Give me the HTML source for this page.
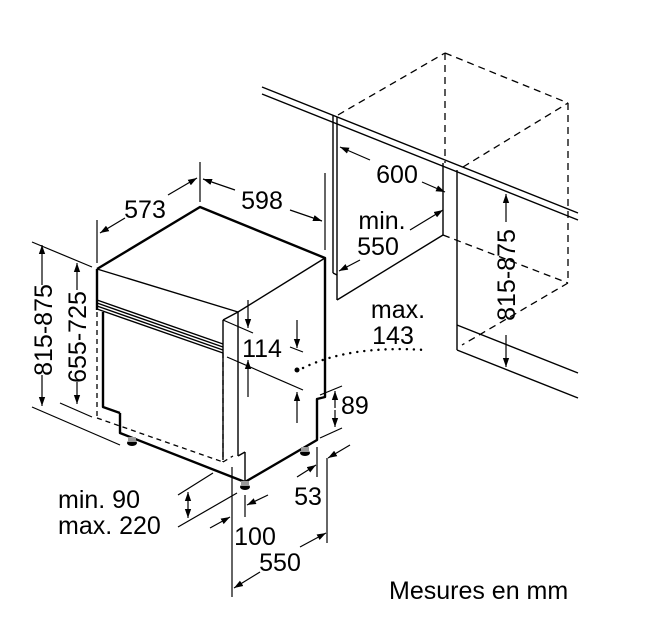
<!DOCTYPE html>
<html><head><meta charset="utf-8"><style>
html,body{margin:0;padding:0;background:#fff;}
svg{display:block;}
text{font-family:"Liberation Sans",Arial,sans-serif;font-size:25px;fill:#000;}
</style></head><body>
<svg width="668" height="625" viewBox="0 0 668 625" xmlns="http://www.w3.org/2000/svg">
<defs>
<marker id="a" viewBox="0 0 10 10" refX="10" refY="5" markerWidth="9" markerHeight="9" orient="auto-start-reverse" markerUnits="userSpaceOnUse"><path d="M0,1.5 L10,5 L0,8.5 z" fill="#000"/></marker>
</defs>
<g fill="none" stroke="#000" stroke-width="1.4">
<line x1="262" y1="87" x2="578" y2="213"/>
<line x1="262" y1="94" x2="578" y2="220"/>
<line x1="333" y1="115" x2="333" y2="273"/>
<line x1="337" y1="117" x2="337" y2="300"/>
<line x1="333" y1="273" x2="337" y2="275"/>
<line x1="337" y1="300" x2="443" y2="235"/>
<line x1="443" y1="163" x2="443" y2="235"/>
<line x1="457" y1="170" x2="457" y2="350"/>
<line x1="457" y1="325" x2="578" y2="373"/>
<line x1="457" y1="350" x2="578" y2="398"/>
</g>
<g fill="none" stroke="#000" stroke-width="1.3" stroke-dasharray="7,5">
<line x1="338" y1="115" x2="445" y2="53"/>
<line x1="445" y1="53" x2="568" y2="103"/>
<line x1="445" y1="53" x2="445" y2="163"/>
<line x1="568" y1="103" x2="568" y2="283"/>
<line x1="443" y1="235" x2="568" y2="283"/>
<line x1="568" y1="283" x2="462" y2="345"/>
<line x1="463" y1="167" x2="568" y2="103"/>
</g>
<g fill="none" stroke="#000" stroke-width="2.4" stroke-linejoin="round">
<polyline points="97,269 200,207 325,258 325,397 317,399 317,440 245,482 120,433 120,413"/>
<line x1="97" y1="269" x2="97" y2="310"/>
<polyline points="103,312 103,407 120,413"/>
</g>
<g fill="none" stroke="#000" stroke-width="1.4">
<line x1="97" y1="269" x2="238" y2="312"/>
<line x1="238" y1="312" x2="325" y2="258"/>
<line x1="238" y1="312" x2="238" y2="456"/>
<line x1="223" y1="320" x2="223" y2="460"/>
<line x1="223" y1="320" x2="238" y2="312"/>
<line x1="245" y1="452" x2="245" y2="482"/>
<line x1="238" y1="456" x2="245" y2="452"/>
<line x1="97" y1="300" x2="223" y2="344"/>
<line x1="97" y1="303" x2="223" y2="347"/>
<line x1="97" y1="306" x2="223" y2="350"/>
<line x1="97" y1="309" x2="223" y2="353"/>
</g>
<g fill="none" stroke="#000" stroke-width="1.3" stroke-dasharray="5,4">
<line x1="97" y1="312" x2="97" y2="418"/>
<line x1="97" y1="418" x2="223" y2="462"/>
<line x1="223" y1="353" x2="223" y2="462"/>
<line x1="223" y1="462" x2="233" y2="456"/>
</g>
<g fill="#000"><ellipse cx="132" cy="443" rx="5" ry="3"/><ellipse cx="305" cy="453" rx="5" ry="3"/><ellipse cx="245" cy="487" rx="5" ry="3"/></g>
<g fill="#999"><rect x="128" y="437" width="8" height="5"/><rect x="301" y="447" width="8" height="5"/><rect x="241" y="481" width="8" height="5"/></g>
<g fill="none" stroke="#000" stroke-width="1.2">
<line x1="97" y1="220" x2="97" y2="263"/>
<line x1="200" y1="162" x2="200" y2="202"/>
<line x1="325" y1="173" x2="325" y2="250"/>
<line x1="32" y1="242" x2="92" y2="267"/>
<line x1="32" y1="407" x2="120" y2="445"/>
<line x1="60" y1="403" x2="92" y2="417"/>
<line x1="223" y1="320" x2="253" y2="333"/>
<line x1="227" y1="357" x2="303" y2="390"/>
<line x1="290" y1="347" x2="303" y2="352"/>
<line x1="320" y1="395" x2="342" y2="386"/>
<line x1="320" y1="438" x2="342" y2="428"/>
<line x1="317" y1="447" x2="317" y2="477"/>
<line x1="327" y1="458" x2="327" y2="543"/>
<line x1="245" y1="495" x2="245" y2="517"/>
<line x1="232" y1="467" x2="232" y2="597"/>
<line x1="178" y1="495" x2="213" y2="473"/>
<line x1="178" y1="527" x2="237" y2="493"/>
<line x1="125" y1="218" x2="100" y2="233" marker-end="url(#a)"/>
<line x1="168" y1="195" x2="197" y2="178" marker-end="url(#a)"/>
<line x1="235" y1="190" x2="203" y2="179" marker-end="url(#a)"/>
<line x1="290" y1="210" x2="322" y2="221" marker-end="url(#a)"/>
<line x1="42" y1="285" x2="42" y2="245" marker-end="url(#a)"/>
<line x1="42" y1="375" x2="42" y2="406" marker-end="url(#a)"/>
<line x1="77" y1="290" x2="77" y2="263" marker-end="url(#a)"/>
<line x1="77" y1="382" x2="77" y2="404" marker-end="url(#a)"/>
<line x1="248" y1="300" x2="248" y2="328" marker-end="url(#a)"/>
<line x1="248" y1="397" x2="248" y2="360" marker-end="url(#a)"/>
<line x1="297" y1="320" x2="297" y2="348" marker-end="url(#a)"/>
<line x1="297" y1="423" x2="297" y2="392" marker-end="url(#a)"/>
<line x1="335" y1="408" x2="335" y2="391" marker-end="url(#a)"/>
<line x1="335" y1="410" x2="335" y2="427" marker-end="url(#a)"/>
<line x1="297" y1="477" x2="316" y2="465" marker-end="url(#a)"/>
<line x1="350" y1="445" x2="328" y2="458" marker-end="url(#a)"/>
<line x1="268" y1="495" x2="247" y2="505" marker-end="url(#a)"/>
<line x1="210" y1="528" x2="230" y2="517" marker-end="url(#a)"/>
<line x1="260" y1="572" x2="234" y2="588" marker-end="url(#a)"/>
<line x1="300" y1="547" x2="326" y2="533" marker-end="url(#a)"/>
<line x1="188" y1="505" x2="188" y2="492" marker-end="url(#a)"/>
<line x1="188" y1="505" x2="188" y2="518" marker-end="url(#a)"/>
<line x1="370" y1="160" x2="340" y2="147" marker-end="url(#a)"/>
<line x1="422" y1="182" x2="445" y2="192" marker-end="url(#a)"/>
<line x1="410" y1="230" x2="443" y2="210" marker-end="url(#a)"/>
<line x1="360" y1="260" x2="339" y2="271" marker-end="url(#a)"/>
<line x1="506" y1="222" x2="506" y2="194" marker-end="url(#a)"/>
<line x1="506" y1="335" x2="506" y2="367" marker-end="url(#a)"/>
</g>
<circle cx="297" cy="370" r="2.5" fill="#000"/>
<path d="M303,368 Q350,345 425,350" fill="none" stroke="#000" stroke-width="2.4" stroke-dasharray="0.1,7" stroke-linecap="round"/>
<text x="145" y="218" text-anchor="middle">573</text>
<text x="262" y="209" text-anchor="middle">598</text>
<text x="397" y="183" text-anchor="middle">600</text>
<text x="382" y="229" text-anchor="middle">min.</text>
<text x="378" y="255" text-anchor="middle">550</text>
<text x="398" y="318" text-anchor="middle">max.</text>
<text x="393" y="344" text-anchor="middle">143</text>
<text x="262" y="357" text-anchor="middle">114</text>
<text x="341" y="414">89</text>
<text x="308" y="505" text-anchor="middle">53</text>
<text x="255" y="545" text-anchor="middle">100</text>
<text x="280" y="571" text-anchor="middle">550</text>
<text x="58" y="508">min. 90</text>
<text x="58" y="534">max. 220</text>
<text transform="translate(52,330) rotate(-90)" text-anchor="middle">815-875</text>
<text transform="translate(86,337) rotate(-90)" text-anchor="middle">655-725</text>
<text transform="translate(515,275) rotate(-90)" text-anchor="middle">815-875</text>
<text x="389" y="599" style="font-size:25px">Mesures en mm</text>
</svg>
</body></html>
